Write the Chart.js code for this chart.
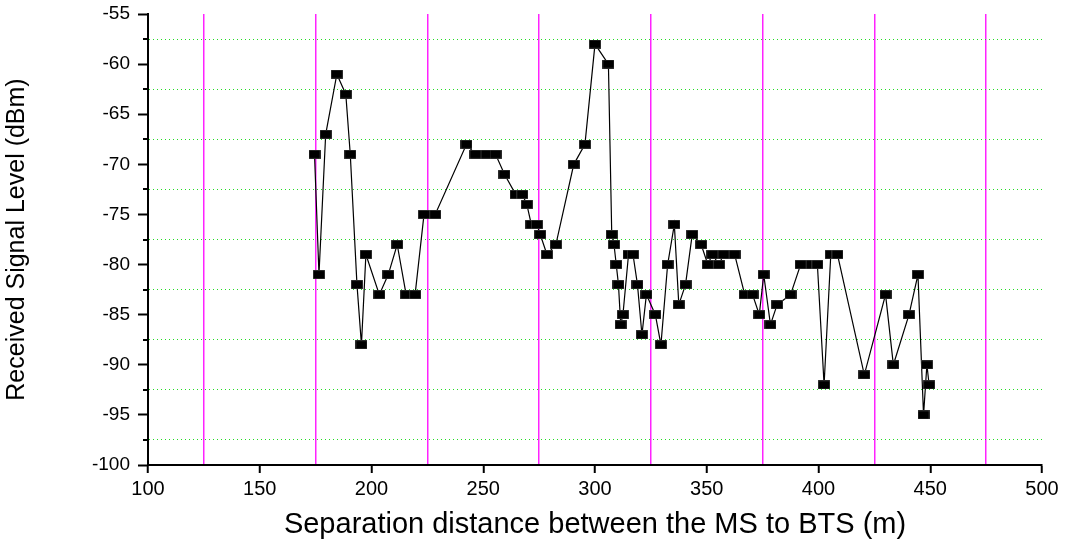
<!DOCTYPE html>
<html>
<head>
<meta charset="utf-8">
<script src="https://cdn.jsdelivr.net/npm/chart.js@4.4.1/dist/chart.umd.min.js"></script>
<style>
html,body{margin:0;padding:0;background:#ffffff;}
#wrap{width:1066px;height:544px;position:relative;}
</style>
</head>
<body>
<div id="wrap"><canvas id="c" width="1066" height="544"></canvas></div>
<script>
// ---- data ----
const distances = [
  174.5, 176.5, 179.5, 184.5, 188.5, 190.5, 193.5, 195.5, 197.5, 203.5,
  207.5, 211.5, 215.5, 219.5, 223.5, 228.5, 242.5, 246.5, 251.5, 255.5,
  259.5, 264.5, 267.5, 269.5, 271.5, 274, 275.5, 278.5, 282.5, 290.5,
  295.5, 300, 306, 307.5, 308.5, 309.5, 310.5, 311.5, 312.5, 315,
  317, 319, 321, 323, 327, 329.5, 332.5, 335.5, 337.5, 340.5,
  343.5, 347.5, 350.5, 352.5, 355.5, 357.5, 362.5, 367, 370.5, 373.5,
  375.5, 378.5, 381.5, 387.5, 392, 397, 399.5, 402.5, 405.5, 408.5,
  420.5, 430, 433.5, 440.5, 444.5, 447, 448.5, 449.5
];
const signalLevels = [
  -69, -81, -67, -61, -63, -69, -82, -88, -79, -83,
  -81, -78, -83, -83, -75, -75, -68, -69, -69, -69,
  -71, -73, -73, -74, -76, -76, -77, -79, -78, -70,
  -68, -58, -60, -77, -78, -80, -82, -86, -85, -79,
  -79, -82, -87, -83, -85, -88, -80, -76, -84, -82,
  -77, -78, -80, -79, -80, -79, -79, -83, -83, -85,
  -81, -86, -84, -83, -80, -80, -80, -92, -79, -79,
  -91, -83, -90, -85, -81, -95, -90, -92
];
const xTickValues = [100, 150, 200, 250, 300, 350, 400, 450, 500];
const yTickValues = [-100, -95, -90, -85, -80, -75, -70, -65, -60, -55];
const xMinorGrid = [125, 175, 225, 275, 325, 375, 425, 475];
const yMinorGrid = [-97.5, -92.5, -87.5, -82.5, -77.5, -72.5, -67.5, -62.5, -57.5];

const xTitle = 'Separation distance between the MS to BTS (m)';
const yTitle = 'Received Signal Level (dBm)';

// ---- marker image (small filled rectangle) ----
const marker = document.createElement('canvas');
marker.width = 12; marker.height = 9;
(function(){
  const m = marker.getContext('2d');
  m.fillStyle = '#555555';
  m.fillRect(0, 0, 12, 9);
  m.fillStyle = '#000000';
  m.fillRect(0.5, 0.5, 11, 8);
})();

const points = distances.map((d, i) => ({x: d, y: signalLevels[i]}));

const isMajor = (v, step) => Math.abs(v / step - Math.round(v / step)) < 1e-6;
const FONT = '"Liberation Sans", Arial, sans-serif';
const CLEAR = 'rgba(255,255,255,0)';

const minorTicks = {
  id: 'minorTicks',
  afterDraw(chart) {
    const y = chart.scales.y;
    const c = chart.ctx;
    const left = chart.chartArea.left;
    c.save();
    c.strokeStyle = '#000000';
    c.lineWidth = 2;
    yMinorGrid.forEach(v => {
      const py = Math.round(y.getPixelForValue(v));
      c.beginPath();
      c.moveTo(left - 5, py);
      c.lineTo(left, py);
      c.stroke();
    });
    c.restore();
  }
};

new Chart(document.getElementById('c'), {
  type: 'line',
  data: {
    datasets: [{
      data: points,
      borderColor: '#000000',
      borderWidth: 1.2,
      backgroundColor: '#000000',
      pointStyle: marker,
      pointRadius: 6,
      pointHoverRadius: 6,
      tension: 0,
      fill: false
    }]
  },
  options: {
    responsive: false,
    devicePixelRatio: 1,
    animation: false,
    events: [],
    layout: {padding: {top: 14, right: 24, bottom: 0, left: 0}},
    plugins: {legend: {display: false}, tooltip: {enabled: false}},
    scales: {
      x: {
        type: 'linear',
        min: 100, max: 500,
        afterBuildTicks: s => {
          s.ticks = xTickValues.concat(xMinorGrid).sort((a, b) => a - b).map(v => ({value: v}));
        },
        afterFit: s => { s.height = 79; },
        ticks: {
          autoSkip: false, maxRotation: 0, padding: 4,
          color: '#000000',
          font: {family: FONT, size: 20},
          callback: v => isMajor(v, 50) ? String(v) : ''
        },
        grid: {
          color: ctx => (ctx.tick && !isMajor(ctx.tick.value, 50)) ? '#ff22ff' : CLEAR,
          lineWidth: 1.5,
          tickColor: ctx => (ctx.tick && isMajor(ctx.tick.value, 50)) ? '#000000' : CLEAR,
          tickWidth: 2,
          tickLength: 8
        },
        border: {display: true, color: '#000000', width: 2},
        title: {
          display: true, text: xTitle, color: '#000000',
          font: {family: FONT, size: 29, weight: 'normal'},
          padding: {top: 0, bottom: 2}
        }
      },
      y: {
        type: 'linear',
        min: -100, max: -55,
        afterBuildTicks: s => {
          s.ticks = yTickValues.concat(yMinorGrid).sort((a, b) => a - b).map(v => ({value: v}));
        },
        afterFit: s => { s.width = 148; s.paddingTop = 0; s.paddingBottom = 0; },
        ticks: {
          autoSkip: false, padding: 8,
          color: '#000000',
          font: {family: FONT, size: 19},
          callback: v => isMajor(v, 5) ? String(v) : ''
        },
        grid: {
          color: ctx => (ctx.tick && !isMajor(ctx.tick.value, 5)) ? '#22dd22' : CLEAR,
          lineWidth: 1,
          tickColor: ctx => (ctx.tick && isMajor(ctx.tick.value, 5)) ? '#000000' : CLEAR,
          tickWidth: 2,
          tickLength: 10,
          tickBorderDash: []
        },
        border: {display: true, color: '#000000', width: 2, dash: [1, 3]},
        title: {
          display: true, text: yTitle, color: '#000000',
          font: {family: FONT, size: 25, weight: 'normal'},
          padding: {top: 2, bottom: 0}
        }
      }
    }
  },
  plugins: [minorTicks]
});
</script>
</body>
</html>
